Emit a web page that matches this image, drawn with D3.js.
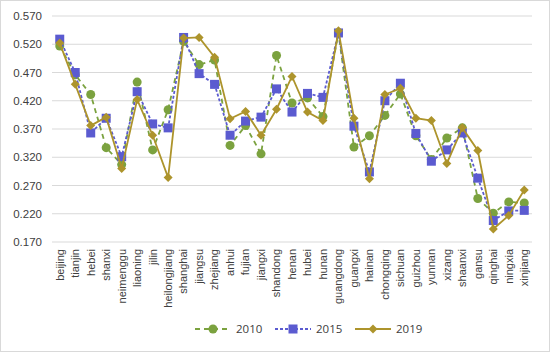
<!DOCTYPE html>
<html>
<head>
<meta charset="utf-8">
<script src="https://cdn.jsdelivr.net/npm/d3@7"></script>
<style>
  body { margin: 0; background: #fff; }
  svg { font-family: "Open Sans", Lato, sans-serif; }
</style>
</head>
<body>
<div id="chart1"></div>
<script>
var provinces = ["beijing","tianjin","hebei","shanxi","neimenggu","liaoning","jilin","heilongjiang",
  "shanghai","jiangsu","zhejiang","anhui","fujian","jiangxi","shandong","henan","hubei","hunan",
  "guangdong","guangxi","hainan","chongqing","sichuan","guizhou","yunnan","xizang","shaanxi",
  "gansu","qinghai","ningxia","xinjiang"];

var v2010 = [0.517,0.466,0.431,0.337,0.307,0.453,0.333,0.404,0.525,0.484,0.492,0.341,0.376,0.326,
  0.500,0.416,0.425,0.392,0.540,0.338,0.358,0.394,0.432,0.358,0.316,0.354,0.372,0.247,0.221,0.241,0.239];
var v2015 = [0.529,0.470,0.363,0.389,0.321,0.436,0.379,0.372,0.532,0.468,0.449,0.359,0.384,0.391,
  0.441,0.400,0.433,0.426,0.540,0.375,0.294,0.420,0.451,0.362,0.313,0.333,0.363,0.283,0.208,0.225,0.226];
var v2019 = [0.522,0.449,0.376,0.391,0.300,0.422,0.359,0.284,0.531,0.532,0.497,0.388,0.401,0.359,
  0.405,0.463,0.400,0.385,0.544,0.389,0.282,0.431,0.442,0.389,0.385,0.309,0.372,0.332,0.193,0.217,0.262];

var yTicks = [0.170,0.220,0.270,0.320,0.370,0.420,0.470,0.520,0.570];

var series = [
  { name: "2010", values: v2010, color: "#7ba23f", dash: "5,4", shape: "circle" },
  { name: "2015", values: v2015, color: "#5b5bd0", dash: "3,2", shape: "square" },
  { name: "2019", values: v2019, color: "#ad942c", dash: null, shape: "diamond" }
];

var W = 550, H = 352;
var margin = { top: 16, right: 18, bottom: 110, left: 52 };
var width = W - margin.left - margin.right,
    height = H - margin.top - margin.bottom;

var svg = d3.select("#chart1").append("svg")
  .attr("width", W).attr("height", H);

svg.append("rect")
  .attr("x", 0.5).attr("y", 0.5).attr("width", W - 1).attr("height", H - 1)
  .attr("fill", "#fff").attr("stroke", "#d9d9d9");

var chart = svg.append("g")
  .attr("transform", "translate(" + margin.left + "," + margin.top + ")");

var x = d3.scaleBand().domain(provinces).range([0, width]);
var y = d3.scaleLinear().domain([0.170, 0.570]).range([height, 0]);

// gridlines
chart.append("g")
  .selectAll("line")
  .data(yTicks)
  .enter().append("line")
  .attr("x1", 0).attr("x2", width)
  .attr("y1", d => y(d)).attr("y2", d => y(d))
  .attr("stroke", "#d9d9d9").attr("stroke-width", 1);

// y axis
var yAxis = chart.append("g")
  .call(d3.axisLeft(y).tickValues(yTicks).tickFormat(d3.format(".3f")).tickSize(0).tickPadding(10));
yAxis.select(".domain").remove();
yAxis.selectAll("text").attr("fill", "#404040").style("font-size", "11.5px");

// x axis
var xAxis = chart.append("g")
  .attr("transform", "translate(0," + height + ")")
  .call(d3.axisBottom(x).tickSize(0));
xAxis.select(".domain").remove();
xAxis.selectAll("text")
  .attr("fill", "#404040")
  .style("font-size", "11px")
  .style("text-anchor", "end")
  .attr("transform", "rotate(-90)")
  .attr("x", -7)
  .attr("y", 0)
  .attr("dy", "0.35em");

var cx = d => x(d) + x.bandwidth() / 2;

function drawMarker(g, shape, color) {
  if (shape === "circle") {
    g.append("circle").attr("r", 4.5).attr("fill", color);
  } else if (shape === "square") {
    g.append("rect").attr("x", -4.5).attr("y", -4.5).attr("width", 9).attr("height", 9).attr("fill", color);
  } else {
    g.append("path").attr("d", "M0,-4.5L4.5,0L0,4.5L-4.5,0Z").attr("fill", color);
  }
}

var line = d3.line()
  .x((d, i) => cx(provinces[i]))
  .y(d => y(d));

series.forEach(function (s) {
  chart.append("path")
    .datum(s.values)
    .attr("d", line)
    .attr("fill", "none")
    .attr("stroke", s.color)
    .attr("stroke-width", 1.8)
    .attr("stroke-dasharray", s.dash);

  chart.append("g").selectAll("g")
    .data(s.values)
    .enter().append("g")
    .attr("transform", (d, i) => "translate(" + cx(provinces[i]) + "," + y(d) + ")")
    .each(function () { drawMarker(d3.select(this), s.shape, s.color); });
});

// legend
var legendX = [195, 275, 355];
var legend = svg.append("g").attr("transform", "translate(0,329)");
series.forEach(function (s, i) {
  var g = legend.append("g").attr("transform", "translate(" + legendX[i] + ",0)");
  g.append("line").attr("x1", 0).attr("x2", 36).attr("y1", 0).attr("y2", 0)
    .attr("stroke", s.color).attr("stroke-width", 1.8).attr("stroke-dasharray", s.dash);
  var m = g.append("g").attr("transform", "translate(18,0)");
  drawMarker(m, s.shape, s.color);
  g.append("text").attr("x", 41).attr("y", 0).attr("dy", "0.35em")
    .attr("fill", "#404040").style("font-size", "11.5px").text(s.name);
});
</script>
</body>
</html>
